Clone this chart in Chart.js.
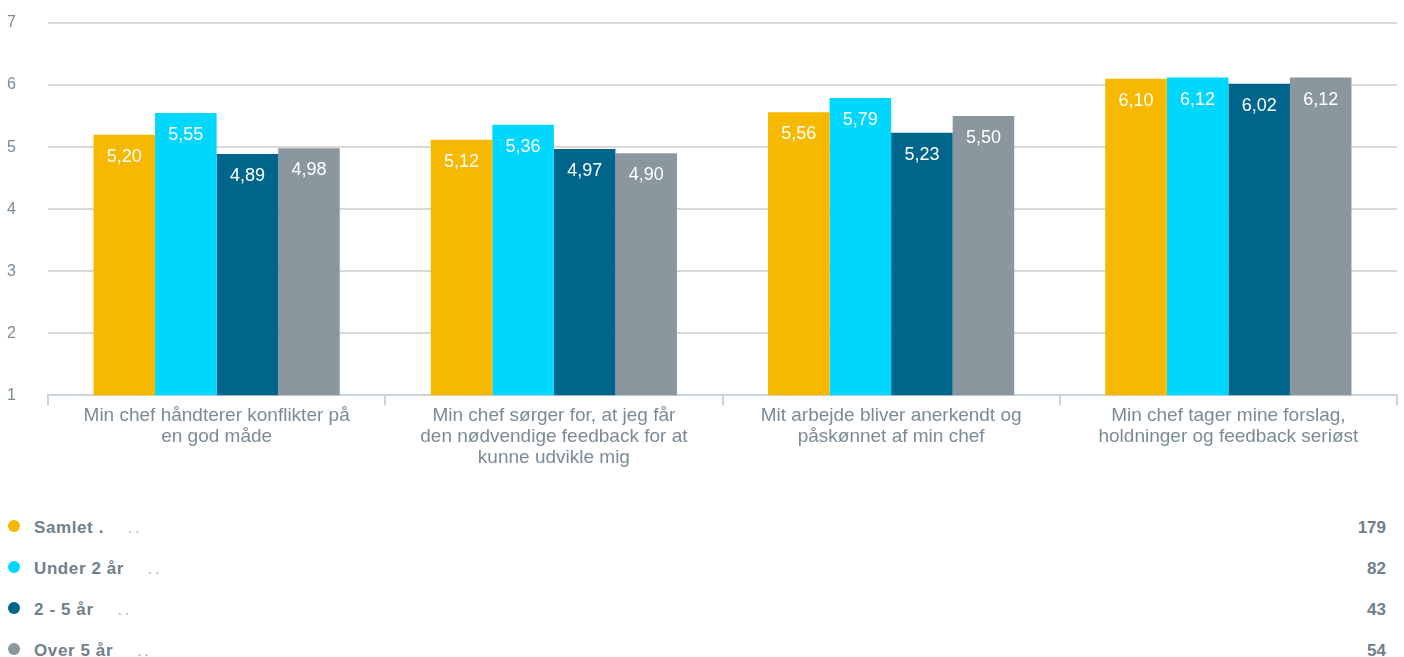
<!DOCTYPE html>
<html>
<head>
<meta charset="utf-8">
<script src="https://cdn.jsdelivr.net/npm/chart.js@4/dist/chart.umd.min.js"></script>
<style>
  html, body { margin: 0; padding: 0; background: #fff; }
  body { width: 1404px; height: 657px; overflow: hidden; font-family: "Liberation Sans", Arial, sans-serif; }
  #wrap { position: relative; width: 1404px; height: 468px; }
  #legend { position: absolute; left: 0; top: 507px; width: 1404px; }
  .row { position: relative; height: 41px; }
  .dot { position: absolute; left: 8px; top: 13px; width: 12px; height: 12px; border-radius: 50%; }
  .name { position: absolute; left: 34px; top: 11px; font-size: 17px; font-weight: bold; color: #6f808a; letter-spacing: 0.6px; }
  .name span { font-weight: normal; color: #9aa6ad; margin-left: 24px; letter-spacing: 3px; font-size: 15px; }
  .count { position: absolute; right: 18px; top: 11px; font-size: 17px; font-weight: bold; color: #6f808a; }
</style>
</head>
<body>
<div id="wrap"><canvas id="chart"></canvas></div>
<div id="legend"></div>
<script>
// ---- data ----
const categories = [
    ['Min chef håndterer konflikter på', 'en god måde'],
    ['Min chef sørger for, at jeg får', 'den nødvendige feedback for at', 'kunne udvikle mig'],
    ['Mit arbejde bliver anerkendt og', 'påskønnet af min chef'],
    ['Min chef tager mine forslag,', 'holdninger og feedback seriøst']
];
const seriesNames = ['Samlet .', 'Under 2 år', '2 - 5 år', 'Over 5 år'];
const seriesCounts = [179, 82, 43, 54];
const samlet = [5.20, 5.12, 5.56, 6.10];
const under2 = [5.55, 5.36, 5.79, 6.12];
const mellem2og5 = [4.89, 4.97, 5.23, 6.02];
const over5 = [4.98, 4.90, 5.50, 6.12];
const colors = ['#f6b900', '#00d7ff', '#00658b', '#8a979e'];

const seriesValues = [samlet, under2, mellem2og5, over5];
const FONT = '"Liberation Sans", Arial, sans-serif';

// value labels inside top of each bar
const barLabels = {
    id: 'barLabels',
    afterDatasetsDraw(chart) {
        const ctx = chart.ctx;
        ctx.save();
        ctx.font = '18px ' + FONT;
        ctx.fillStyle = '#ffffff';
        ctx.textAlign = 'center';
        ctx.textBaseline = 'middle';
        chart.data.datasets.forEach((ds, i) => {
            chart.getDatasetMeta(i).data.forEach((bar, j) => {
                ctx.fillText(ds.data[j].toFixed(2).replace('.', ','), bar.x, bar.y + 22);
            });
        });
        ctx.restore();
    }
};

new Chart(document.getElementById('chart'), {
    type: 'bar',
    data: {
        labels: categories,
        datasets: seriesNames.map((name, i) => ({
            label: name,
            data: seriesValues[i],
            backgroundColor: colors[i],
            categoryPercentage: 0.73,
            barPercentage: 1.0,
            borderWidth: 0
        }))
    },
    options: {
        responsive: true,
        maintainAspectRatio: false,
        animation: false,
        layout: { padding: { left: 7, right: 7, top: 23, bottom: 0 } },
        plugins: {
            legend: { display: false },
            tooltip: { enabled: false }
        },
        scales: {
            y: {
                min: 1,
                max: 7,
                ticks: {
                    stepSize: 1,
                    color: '#7a8b96',
                    font: { size: 16, family: FONT },
                    crossAlign: 'far',
                    padding: 8
                },
                grid: { color: '#d9d9d9', lineWidth: 2, drawTicks: false },
                border: { display: false },
                afterFit: scale => { scale.width = 41; }
            },
            x: {
                ticks: {
                    color: '#7a8b96',
                    font: { size: 19, family: FONT, lineHeight: 1.1 },
                    padding: 0,
                    maxRotation: 0
                },
                grid: { offset: true, drawOnChartArea: false, color: '#c9d5de', lineWidth: 2, tickLength: 10 },
                border: { color: '#c9d5de', width: 2 }
            }
        }
    },
    plugins: [barLabels]
});

// legend rows
const legend = document.getElementById('legend');
seriesNames.forEach((name, i) => {
    const row = document.createElement('div');
    row.className = 'row';
    row.innerHTML = '<div class="dot" style="background:' + colors[i] + '"></div>' +
        '<div class="name">' + name + '<span>..</span></div>' +
        '<div class="count">' + seriesCounts[i] + '</div>';
    legend.appendChild(row);
});
</script>
</body>
</html>
